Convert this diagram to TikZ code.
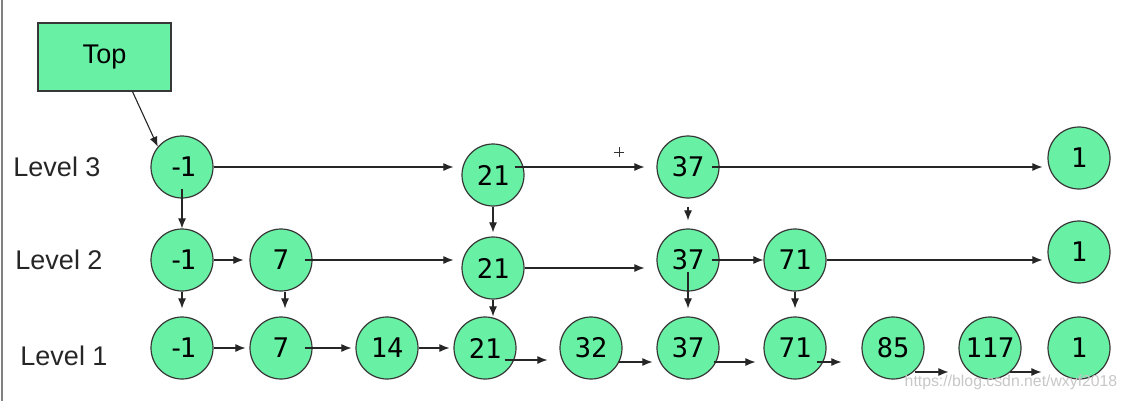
\documentclass[tikz,border=0pt]{standalone}
\usepackage{fontspec}
\setmainfont{Liberation Sans}
\newfontfamily\numfont{DejaVu Sans Mono}
\usetikzlibrary{arrows.meta}
\definecolor{nodegreen}{RGB}{104,240,164}
\definecolor{rimgray}{RGB}{55,55,55}
\newcommand{\minusone}{-\kern-2.5pt1}
\begin{document}
\begin{tikzpicture}[x=0.5pt, y=-0.5pt,
  elem/.style={circle, draw=rimgray, line width=0.6pt, fill=nodegreen, minimum size=31pt, inner sep=0pt, font=\numfont\fontsize{13.5}{15}\selectfont},
  levlabel/.style={font=\fontsize{13.5}{15}\selectfont, text=black!85},
  arr/.style={line width=0.55pt, black!85, -{Latex[length=5pt, width=4pt]}}]
  \useasboundingbox (0,0) rectangle (1128,401);
  \draw[gray, line width=0.8pt] (2,0) -- (2,401);
  \node[draw=rimgray, line width=0.6pt, fill=nodegreen, minimum width=66.5pt, minimum height=34pt, font=\fontsize{13.5}{15}\selectfont] (top) at (104.5,57) {Top};
  \node[levlabel] (lev3) at (57,167) {Level 3};
  \node[levlabel] (lev2) at (59,260) {Level 2};
  \node[levlabel] (lev1) at (64,356) {Level 1};
  \node[elem] (l3n1) at (182,167) {\minusone};
  \node[elem] (l3n21) at (493,175) {21};
  \node[elem] (l3n37) at (688,167) {37};
  \node[elem] (l3end) at (1079,158) {1};
  \node[elem] (l2n1) at (182,260) {\minusone};
  \node[elem] (l2n7) at (281,260) {7};
  \node[elem] (l2n21) at (493,268) {21};
  \node[elem] (l2n37) at (688,260) {37};
  \node[elem] (l2n71) at (795,260) {71};
  \node[elem] (l2end) at (1079,252) {1};
  \node[elem] (l1n1) at (182,348) {\minusone};
  \node[elem] (l1n7) at (281,348) {7};
  \node[elem] (l1n14) at (387,348) {14};
  \node[elem] (l1n21) at (485,348) {21};
  \node[elem] (l1n32) at (591,348) {32};
  \node[elem] (l1n37) at (688,348) {37};
  \node[elem] (l1n71) at (795,348) {71};
  \node[elem] (l1n85) at (893,348) {85};
  \node[elem] (l1n117) at (990,348) {117};
  \node[elem] (l1end) at (1079,348) {1};
  \draw[arr] ([xshift=14pt]top.south) -- (l3n1.140);
  \draw[arr] (l3n1.east) -- ([xshift=-4pt]l3n21.west |- l3n1.east);
  \draw[arr] ([xshift=-5pt]l3n21.east |- l3n37.west) -- ([xshift=-6pt]l3n37.west);
  \draw[arr] ([xshift=-4pt]l3n37.east) -- ([xshift=-2.5pt]l3end.west |- l3n37.east);
  \draw[arr] ([yshift=5pt]l3n1.south) -- (l2n1.north);
  \draw[arr] (l3n21.south) -- ([yshift=2pt]l2n21.north);
  \draw[arr] ([yshift=-4pt]l3n37.south) -- ([yshift=4pt]l2n37.north);
  \draw[arr] (l2n1.east) -- ([xshift=-3pt]l2n7.west);
  \draw[arr] ([xshift=-4pt]l2n7.east) -- ([xshift=-4pt]l2n21.west |- l2n7.east);
  \draw[arr] (l2n21.east) -- ([xshift=-6pt]l2n37.west |- l2n21.east);
  \draw[arr] ([xshift=-4pt]l2n37.east) -- (l2n71.west);
  \draw[arr] (l2n71.east) -- ([xshift=-2.5pt]l2end.west |- l2n71.east);
  \draw[arr] (l2n1.south) -- ([yshift=4pt]l1n1.north);
  \draw[arr] ([xshift=2pt]l2n7.south) -- ([xshift=2pt, yshift=4pt]l1n7.north);
  \draw[arr] (l2n21.south) -- (l1n21.north -| l2n21.south);
  \draw[arr] ([yshift=10pt]l2n37.south) -- ([yshift=4pt]l1n37.north);
  \draw[arr] (l2n71.south) -- ([yshift=4pt]l1n71.north);
  \draw[arr] (l1n1.east) -- ([xshift=-2pt]l1n7.west);
  \draw[arr] ([xshift=-4pt]l1n7.east) -- ([xshift=-2pt]l1n14.west);
  \draw[arr] (l1n14.east) -- ([xshift=-2pt]l1n21.west);
  \draw[arr] ([shift={(-6pt,-6pt)}]l1n21.east) -- ([shift={(-6pt,-6pt)}]l1n32.west);
  \draw[arr] ([shift={(-2pt,-7pt)}]l1n32.east) -- ([shift={(-2pt,-7pt)}]l1n37.west);
  \draw[arr] ([shift={(-3pt,-7pt)}]l1n37.east) -- ([shift={(-4pt,-7pt)}]l1n71.west);
  \draw[arr] ([shift={(-5pt,-7pt)}]l1n71.east) -- ([shift={(-10pt,-7pt)}]l1n85.west);
  \draw[arr] ([shift={(-5pt,-12pt)}]l1n85.east) -- ([shift={(-5pt,-12pt)}]l1n117.west);
  \draw[arr] ([shift={(-6pt,-12pt)}]l1n117.east) -- ([shift={(-3pt,-12pt)}]l1end.west);
  \draw[black!80, line width=0.4pt] (614,152) -- (624,152) (619,147) -- (619,157);
  \node[font=\fontsize{7.9}{9}\selectfont, text=black!22] (mark) at (1011,382) {https://blog.csdn.net/wxyf2018};
\end{tikzpicture}
\end{document}
